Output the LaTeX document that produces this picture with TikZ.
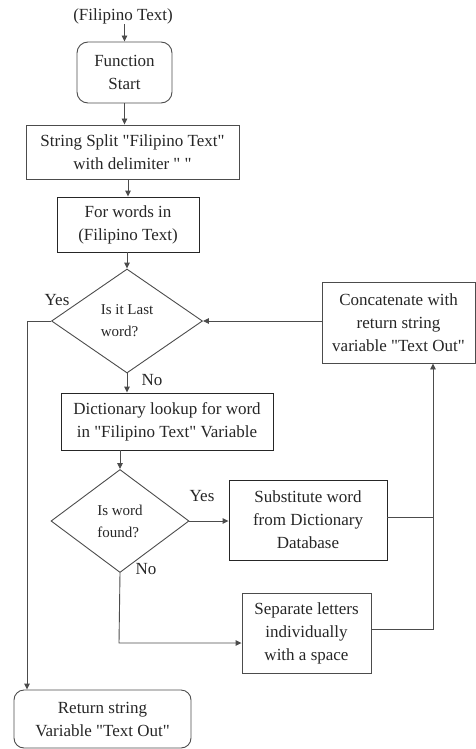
\documentclass[tikz,border=0pt]{standalone}
\usepackage{fontspec}
\setmainfont{Liberation Serif}
\usetikzlibrary{shapes.geometric,arrows.meta,calc}
\newcommand{\dq}{\textquotedbl}
\begin{document}
\begin{tikzpicture}[x=1pt,y=-1pt,
  every node/.style={inner sep=0pt, font=\rmfamily\fontsize{17}{23}\selectfont, text=black!85},
  box/.style={draw=black!70, line width=0.9pt, align=center},
  rbox/.style={box, rounded corners=11pt},
  dec/.style={draw=black!70, line width=0.9pt, diamond, align=left, font=\rmfamily\fontsize{15}{22}\selectfont},
  lbl/.style={font=\rmfamily\fontsize{17}{20}\selectfont},
  conn/.style={draw=black!70, line width=0.9pt},
  arr/.style={conn, -{Triangle[length=6pt,width=5.5pt]}}
]
\useasboundingbox (0,0) rectangle (476,749);
\node (ft) at (123,16) {(Filipino Text)};
\node[rbox, minimum width=95pt, minimum height=61pt] (fs) at (124.5,72.5) {Function\\Start};
\node[box, minimum width=213pt, minimum height=54pt] (ss) at (132.5,152) {String Split \dq Filipino Text\dq\\with delimiter \dq\ \dq};
\node[box, draw=black!85, minimum width=142pt, minimum height=55pt] (fw) at (128,224.5) {For words in\\(Filipino Text)};
\node[dec, minimum width=151pt, minimum height=104pt] (d1) at (127,321) {Is it Last\\word?};
\node[box, minimum width=153pt, minimum height=81pt] (cc) at (398.5,322.5) {Concatenate with\\return string\\variable \dq Text Out\dq};
\node[box, draw=black!85, minimum width=212pt, minimum height=57pt] (dict) at (167,421.5) {Dictionary lookup for word\\in \dq Filipino Text\dq\ Variable};
\node[dec, minimum width=138pt, minimum height=103pt] (d2) at (120,521) {Is word\\found?};
\node[box, draw=black!85, minimum width=158pt, minimum height=80pt] (sub) at (308,520) {Substitute word\\from Dictionary\\Database};
\node[box, minimum width=129pt, minimum height=80pt] (sep) at (306.5,633) {Separate letters\\individually\\with a space};
\node[rbox, rounded corners=10pt, minimum width=177pt, minimum height=58pt] (ret) at (102.5,719) {Return string\\Variable \dq Text Out\dq};

\node[lbl] (yes1) at (57,300) {Yes};
\node[lbl] (no1) at (152,380) {No};
\node[lbl] (yes2) at (202,496) {Yes};
\node[lbl] (no2) at (146,569) {No};

\coordinate (yx) at (27,321);
\coordinate (lx) at (433,0);
\coordinate (nb) at (119,643);

\draw[arr] (fs.north |- ft.south) -- (fs.north);
\draw[arr] (fs.south) -- (fs.south |- ss.north);
\draw[arr] (fw.north |- ss.south) -- (fw.north);
\draw[arr] (fw.south -| d1.north) -- (d1.north);
\draw[arr] (d1.south) -- (d1.south |- dict.north);
\draw[arr] (d2.north |- dict.south) -- (d2.north);
\draw[arr] (d1.west) -- (yx) -- (yx |- ret.north);
\draw[arr] (cc.west |- d1.east) -- (d1.east);
\draw[arr] (d2.east) -- (d2.east -| sub.west);
\draw[arr] (d2.south) -- (nb) -- (nb -| sep.west);
\draw[conn] ($(sub.east)+(0,-3)$) -- ($(sub.east -| lx)+(0,-3)$);
\draw[arr] ($(sep.east)+(0,-4)$) -- ($(sep.east -| lx)+(0,-4)$) -- (lx |- cc.south);
\end{tikzpicture}
\end{document}
